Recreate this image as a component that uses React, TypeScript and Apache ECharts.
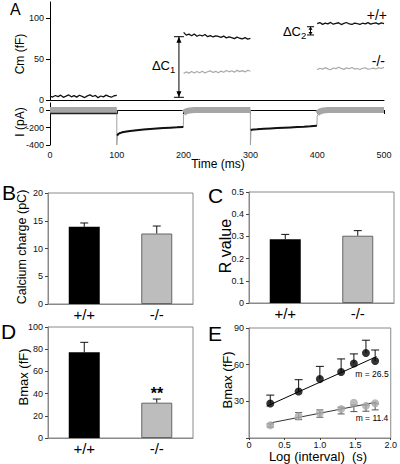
import React, { useEffect, useRef } from 'react';
import * as echarts from 'echarts';

const FONT = "'Liberation Sans', Arial, sans-serif";

// ---------- Panel A : capacitance traces (fF), sampled every 4 ms in each 100 ms segment ----------
const segTime = [0, 4, 8, 12, 16, 20, 24, 28, 32, 36, 40, 44, 48, 52, 56, 60, 64, 68, 72, 76, 80, 84, 88, 92, 96, 100];
const cmWtBase = [4.8, 3.6, 5.5, 4.1, 5.9, 3.3, 4.7, 6.2, 3.9, 5.4, 3.5, 5.8, 4.4, 3.0, 5.1, 6.3, 4.3, 5.6, 2.9, 4.9, 3.8, 6.0, 4.5, 3.4, 5.2, 5.7];
const cmWtPulse1 = [82.8, 79.4, 80.6, 78.7, 80.9, 78.1, 79.6, 78.4, 80.2, 77.5, 78.9, 77.2, 78.6, 77.8, 76.7, 78.3, 76.1, 77.4, 76.5, 75.2, 77.0, 75.6, 74.9, 76.3, 74.5, 75.4];
const cmKoPulse1 = [32.6, 34.4, 32.9, 34.8, 33.1, 35.0, 33.4, 35.3, 33.2, 34.6, 35.7, 33.6, 35.1, 33.3, 35.4, 34.0, 36.1, 34.5, 35.8, 34.1, 36.3, 34.8, 36.0, 34.4, 36.5, 35.2];
const cmWtPulse2 = [93.5, 94.8, 92.6, 94.1, 93.2, 95.0, 92.8, 93.9, 94.6, 92.4, 93.7, 94.9, 93.1, 92.5, 94.2, 93.4, 92.7, 94.0, 93.3, 94.7, 92.9, 93.8, 94.4, 93.0, 94.5, 93.6];
const cmKoPulse2 = [37.2, 38.9, 37.8, 39.6, 38.1, 37.0, 39.2, 38.4, 40.1, 38.7, 37.5, 39.4, 38.2, 39.9, 37.9, 38.6, 37.3, 38.8, 39.5, 37.7, 38.3, 39.1, 38.0, 39.7, 38.5, 40.0];
const cmTicks = [0, 50, 100];

// delta-C annotations (time ms, top fF, bottom fF)
const deltaTime = [193, 390];
const deltaTop = [77.5, 89.7];
const deltaBottom = [3.3, 79.6];

// ---------- Panel A : current traces (pA) ----------
const iWtHoldTime = [0, 100];
const iWtHold = [-40, -40];
const iWtStep1Time = [100.5, 102, 104, 107, 110, 115, 120, 130, 140, 150, 160, 170, 180, 190, 199.5];
const iWtStep1 = [-292, -276, -266, -258, -252, -245, -240, -231, -224, -218, -212, -207, -202, -198, -194];
const iWtStep2Time = [300.5, 302, 305, 310, 320, 330, 340, 350, 360, 370, 380, 390, 399.5];
const iWtStep2 = [-229, -225, -222, -220, -215, -211, -207, -203, -199, -195, -191, -186, -181];
const iKoTime = [0, 100, 100, 101, 104, 110, 120, 140, 160, 180, 199.5, 200, 203, 207, 212, 300, 300, 301, 310, 330, 350, 370, 390, 399.5, 400, 403, 407, 412, 500];
const iKo = [0, 0, -400, -285, -262, -250, -238, -223, -210, -201, -194, -55, -25, -10, 0, 0, -400, -226, -219, -211, -203, -195, -187, -181, -70, -30, -12, 0, 0];
const iKoBand1Time = [0, 100];
const iKoBand1 = [1, 1];
const iKoBand2Time = [200, 204, 209, 216, 300];
const iKoBand2 = [-32, -14, -5, 0, 1];
const iKoBand3Time = [400, 404, 409, 416, 500];
const iKoBand3 = [-40, -16, -6, -1, 0];
const iTicks = [-400, -200, 0];

// ---------- Panels B-D : bar charts ----------
const genotypes = ['+/+', '-/-'];
const calciumCharge = [13.9, 12.7];
const calciumChargeErr = [14.6, 14.05];
const rValue = [0.287, 0.303];
const rValueErr = [0.309, 0.326];
const bmax = [77.2, 31.8];
const bmaxErr = [86.2, 35.1];

// ---------- Panel E : Bmax vs log(interval) ----------
const logInterval = [0.3, 0.7, 1.0, 1.3, 1.48, 1.65, 1.78];
const bmaxWt = [28.2, 38.0, 48.2, 54.0, 61.0, 69.6, 63.0];
const bmaxWtErr = [35.1, 47.7, 58.6, 64.7, 68.8, 80.0, 72.0];
const bmaxKo = [10.4, 17.8, 20.5, 23.6, 28.8, 26.3, 28.5];
const bmaxKoLow = [9.0, 15.0, 17.0, 19.7, 21.6, 21.9, 23.0];
const bmaxKoHigh = [11.5, 20.8, 23.0, 25.2, 27.0, 27.0, 28.0];
const fitWtX = [0.25, 1.8];
const fitWtY = [26.0, 66.6];
const fitKoX = [0.3, 1.8];
const fitKoY = [12.3, 29.4];

const pairs = (xs: number[], ys: number[], offset = 0) => xs.map((x, i) => [x + offset, ys[i]]);

const errRender = (capHalf: number, color: string, both: boolean) => (params: any, api: any) => {
  const x = api.value(0);
  const lo = api.coord([x, api.value(1)]);
  const hi = api.coord([x, api.value(2)]);
  const style = { stroke: color, lineWidth: 1 };
  const children: any[] = [
    { type: 'line', shape: { x1: lo[0], y1: lo[1], x2: hi[0], y2: hi[1] }, style },
    { type: 'line', shape: { x1: hi[0] - capHalf, y1: hi[1], x2: hi[0] + capHalf, y2: hi[1] }, style },
  ];
  if (both) {
    children.push({ type: 'line', shape: { x1: lo[0] - capHalf, y1: lo[1], x2: lo[0] + capHalf, y2: lo[1] }, style });
  }
  return { type: 'group', children };
};

const arrowRender = (params: any, api: any) => {
  const big = params.dataIndex === 0;
  const x = api.value(0);
  const p1 = api.coord([x, api.value(1)]);
  const p2 = api.coord([x, api.value(2)]);
  const cap = big ? 5 : 3.5;
  const al = big ? 6 : 3;
  const aw = big ? 2.5 : 2;
  const st = { stroke: '#000', lineWidth: 1 };
  const fill = { fill: '#000' };
  return {
    type: 'group',
    children: [
      { type: 'line', shape: { x1: p1[0], y1: p1[1], x2: p2[0], y2: p2[1] }, style: st },
      { type: 'line', shape: { x1: p1[0] - cap, y1: p1[1], x2: p1[0] + cap, y2: p1[1] }, style: st },
      { type: 'line', shape: { x1: p2[0] - cap, y1: p2[1], x2: p2[0] + cap, y2: p2[1] }, style: st },
      { type: 'polygon', shape: { points: [[p1[0], p1[1]], [p1[0] - aw, p1[1] + al], [p1[0] + aw, p1[1] + al]] }, style: fill },
      { type: 'polygon', shape: { points: [[p2[0], p2[1]], [p2[0] - aw, p2[1] - al], [p2[0] + aw, p2[1] - al]] }, style: fill },
    ],
  };
};

const BOX = '#8a8a8a';
const tickLabel = { fontSize: 9, color: '#111', fontFamily: FONT };

const boxGrid = (left: number, top: number, width: number, height: number) => ({
  left, top, width, height, show: true, borderColor: BOX, borderWidth: 1, backgroundColor: 'transparent',
});

const catAxis = (gridIndex: number) => ({
  gridIndex, type: 'category', data: genotypes,
  axisLine: { show: true, lineStyle: { color: BOX } },
  axisTick: { show: false },
  axisLabel: { fontSize: 15, color: '#000', margin: 3, fontFamily: FONT },
  splitLine: { show: false },
});

const valAxis = (gridIndex: number, min: number, max: number, interval: number, fmt?: (v: number) => string) => ({
  gridIndex, type: 'value', min, max, interval,
  axisLine: { show: true, lineStyle: { color: BOX } },
  axisTick: { show: true, length: 3, lineStyle: { color: '#444' } },
  axisLabel: { ...tickLabel, margin: 5, formatter: fmt },
  splitLine: { show: false },
});

const barStyles = [
  { color: '#000' },
  { color: '#bdbdbd', borderColor: '#666', borderWidth: 1 },
];

const barSeries = (idx: number, vals: number[], errs: number[]) => [
  {
    type: 'bar', xAxisIndex: idx, yAxisIndex: idx, barWidth: 31,
    data: vals.map((v, i) => ({ value: v, itemStyle: barStyles[i] })),
  },
  {
    type: 'custom', xAxisIndex: idx, yAxisIndex: idx, z: 5,
    encode: { x: 0, y: [1, 2] },
    data: vals.map((v, i) => [i, v, errs[i]]),
    renderItem: errRender(4, '#111', false),
  },
];

const txt = (text: string, x: number, y: number, fontSize: number, align = 'center', vAlign = 'middle', extra: any = {}) => ({
  type: 'text', x, y, silent: true, ...extra,
  style: {
    text, fontSize, fontFamily: FONT, fill: '#000',
    align, verticalAlign: vAlign, textAlign: align, textVerticalAlign: vAlign,
    fontWeight: extra.fontWeight || 'normal',
  },
});

const lineS = (xi: number, data: number[][], color: string, width: number, z = 2) => ({
  type: 'line', xAxisIndex: xi, yAxisIndex: xi, data, showSymbol: false, symbol: 'none',
  lineStyle: { color, width }, z, silent: true,
});

const option: any = {
  animation: false,
  textStyle: { fontFamily: FONT },
  grid: [
    { left: 50, top: 2, width: 334, height: 98 },
    { left: 50, top: 103, width: 334, height: 42 },
    boxGrid(48, 193, 145, 111),
    boxGrid(249, 192, 145, 111),
    boxGrid(48, 327, 145, 111),
    boxGrid(249, 328, 143, 110),
  ],
  xAxis: [
    {
      gridIndex: 0, type: 'value', min: 0, max: 500,
      axisLine: { show: true, lineStyle: { color: '#000' } },
      axisTick: { show: false }, axisLabel: { show: false }, splitLine: { show: false },
    },
    {
      gridIndex: 1, type: 'value', min: 0, max: 500, interval: 100,
      axisLine: { show: true, lineStyle: { color: '#000' } },
      axisTick: { show: true, length: 4, lineStyle: { color: '#000' } },
      axisLabel: { ...tickLabel, margin: 5 },
      splitLine: { show: false },
    },
    catAxis(2),
    catAxis(3),
    catAxis(4),
    {
      ...valAxis(5, 0, 2, 0.5, (v: number) => (v === 0 ? '0' : v.toFixed(1))),
      axisTick: { show: true, length: 2, lineStyle: { color: '#444' } },
      axisLabel: { ...tickLabel, margin: 2, formatter: (v: number) => (v === 0 ? '0' : v.toFixed(1)) },
    },
  ],
  yAxis: [
    {
      gridIndex: 0, type: 'value', min: 0, max: 120,
      axisLine: { show: true, lineStyle: { color: '#000' } },
      axisTick: { show: true, length: 4, customValues: cmTicks, lineStyle: { color: '#000' } },
      axisLabel: { ...tickLabel, margin: 6, customValues: cmTicks },
      splitLine: { show: false },
    },
    {
      gridIndex: 1, type: 'value', min: -400, max: 80,
      axisLine: { show: true, lineStyle: { color: '#000' } },
      axisTick: { show: true, length: 4, customValues: iTicks, lineStyle: { color: '#000' } },
      axisLabel: { ...tickLabel, margin: 6, customValues: iTicks },
      splitLine: { show: false },
    },
    valAxis(2, 0, 20, 5),
    valAxis(3, 0, 0.5, 0.1, (v: number) => (v === 0 ? '0' : v.toFixed(1))),
    valAxis(4, 0, 100, 20),
    valAxis(5, 0, 90, 30, (v: number) => (v === 0 ? '' : String(v))),
  ],
  series: [
    // Panel A – capacitance
    lineS(0, pairs(segTime, cmWtBase, 0), '#111', 1.3),
    lineS(0, pairs(segTime, cmKoPulse1, 200), '#aaaaaa', 1.2),
    lineS(0, pairs(segTime, cmWtPulse1, 200), '#111', 1.3),
    lineS(0, pairs(segTime, cmKoPulse2, 400), '#aaaaaa', 1.2),
    lineS(0, pairs(segTime, cmWtPulse2, 400), '#111', 1.3),
    {
      type: 'custom', xAxisIndex: 0, yAxisIndex: 0, z: 5, silent: true,
      encode: { x: 0, y: [1, 2] },
      data: deltaTime.map((t, i) => [t, deltaTop[i], deltaBottom[i]]),
      renderItem: arrowRender,
    },
    // Panel A – currents
    lineS(1, pairs(iKoTime, iKo), '#a0a0a0', 1, 1),
    lineS(1, pairs(iKoBand1Time, iKoBand1), '#a6a6a6', 6, 1),
    lineS(1, pairs(iKoBand2Time, iKoBand2), '#a6a6a6', 6, 1),
    lineS(1, pairs(iKoBand3Time, iKoBand3), '#a6a6a6', 6, 1),
    lineS(1, pairs(iWtHoldTime, iWtHold), '#222', 1.5, 3),
    lineS(1, pairs(iWtStep1Time, iWtStep1), '#111', 2, 3),
    lineS(1, pairs(iWtStep2Time, iWtStep2), '#111', 2, 3),
    // Panels B, C, D
    ...barSeries(2, calciumCharge, calciumChargeErr),
    ...barSeries(3, rValue, rValueErr),
    ...barSeries(4, bmax, bmaxErr),
    // Panel E
    lineS(5, pairs(fitWtX, fitWtY), '#000', 1, 2),
    lineS(5, pairs(fitKoX, fitKoY), '#333', 1, 2),
    {
      type: 'custom', xAxisIndex: 5, yAxisIndex: 5, z: 3, silent: true,
      encode: { x: 0, y: [1, 2] },
      data: logInterval.map((x, i) => [x, bmaxWt[i], bmaxWtErr[i]]),
      renderItem: errRender(4, '#111', false),
    },
    {
      type: 'custom', xAxisIndex: 5, yAxisIndex: 5, z: 3, silent: true,
      encode: { x: 0, y: [1, 2] },
      data: logInterval.map((x, i) => [x, bmaxKoLow[i], bmaxKoHigh[i]]),
      renderItem: errRender(3.5, '#555', true),
    },
    {
      type: 'scatter', xAxisIndex: 5, yAxisIndex: 5, z: 4, symbolSize: 8,
      itemStyle: { color: '#000' }, data: pairs(logInterval, bmaxWt),
    },
    {
      type: 'scatter', xAxisIndex: 5, yAxisIndex: 5, z: 4, symbolSize: 8,
      itemStyle: { color: '#aaaaaa' }, data: pairs(logInterval, bmaxKo),
    },
  ],
  graphic: [
    // panel letters
    txt('A', 10, 1, 16, 'left', 'top'),
    txt('B', 2, 182, 21, 'left', 'top'),
    txt('C', 208, 185, 21, 'left', 'top'),
    txt('D', 1, 321, 21, 'left', 'top'),
    txt('E', 208, 323, 21, 'left', 'top'),
    // panel A texts
    txt('Cm (fF)', 20, 54, 12, 'center', 'middle', { rotation: Math.PI / 2 }),
    txt('I (pA)', 20, 122, 12, 'center', 'middle', { rotation: Math.PI / 2 }),
    txt('Time (ms)', 218, 164, 12),
    txt('ΔC', 170, 65, 13, 'right'),
    txt('1', 170, 69, 9.5, 'left'),
    txt('ΔC', 301, 31, 13, 'right'),
    txt('2', 301, 35, 9.5, 'left'),
    txt('+/+', 387, 15, 14, 'right'),
    txt('-/-', 385, 61, 14, 'right'),
    // panel B-E axis titles
    txt('Calcium charge (pC)', 22, 247, 12.5, 'center', 'middle', { rotation: Math.PI / 2 }),
    txt('R value', 225, 246, 16, 'center', 'middle', { rotation: Math.PI / 2 }),
    txt('Bmax (fF)', 23, 377, 13, 'center', 'middle', { rotation: Math.PI / 2 }),
    txt('Bmax (fF)', 227, 380, 13, 'center', 'middle', { rotation: Math.PI / 2 }),
    txt('Log (interval)\u00a0\u00a0(s)', 318, 456, 13),
    txt('**', 157, 393, 16, 'center', 'middle', { fontWeight: 'bold' }),
    txt('m = 26.5', 372, 374, 8.5),
    txt('m = 11.4', 372, 418, 8.5),
  ],
};

export default function App() {
  const ref = useRef<HTMLDivElement>(null);
  useEffect(() => {
    if (!ref.current) return;
    const chart = echarts.init(ref.current, null, { renderer: 'svg' });
    chart.setOption(option);
    return () => chart.dispose();
  }, []);
  return (
    <div
      ref={ref}
      style={{ position: 'fixed', left: 0, top: 0, width: 400, height: 464, background: '#fff' }}
    />
  );
}
